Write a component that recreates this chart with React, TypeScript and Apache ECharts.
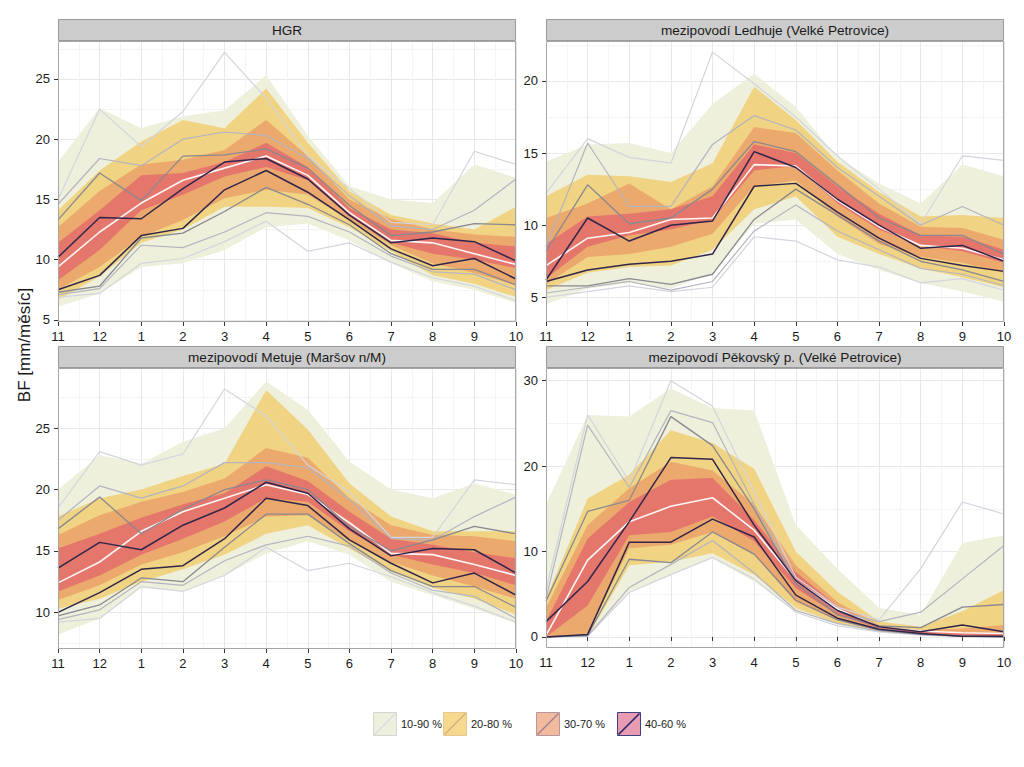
import React, { useEffect, useRef } from "react";
import * as echarts from "echarts";

// ---------- categories / labels ----------
const months = ["11", "12", "1", "2", "3", "4", "5", "6", "7", "8", "9", "10"];
const titles = [
  "HGR",
  "mezipovodí Ledhuje (Velké Petrovice)",
  "mezipovodí Metuje (Maršov n/M)",
  "mezipovodí Pěkovský p. (Velké Petrovice)",
];
const legendLabels = ["10-90 %", "20-80 %", "30-70 %", "40-60 %"];
const yTitle = "BF [mm/měsíc]";
const yTicksHgr = [5, 10, 15, 20, 25];
const yTicksLed = [5, 10, 15, 20];
const yTicksMet = [10, 15, 20, 25];
const yTicksPek = [0, 10, 20, 30];

// ---------- HGR ----------
const hgrB10 = [6.1, 7.2, 9.4, 9.7, 10.8, 12.7, 13.0, 11.6, 9.7, 8.2, 7.5, 6.4];
const hgrB90 = [18.1, 22.6, 20.9, 21.9, 22.4, 25.3, 20.3, 16.1, 15.0, 14.7, 17.9, 16.8];
const hgrB20 = [6.7, 8.6, 11.4, 12.5, 14.4, 14.4, 14.3, 12.7, 10.7, 8.7, 8.0, 6.9];
const hgrB80 = [14.1, 17.4, 19.8, 21.6, 20.9, 24.2, 19.7, 15.7, 13.7, 13.0, 12.5, 14.4];
const hgrB30 = [7.5, 9.4, 11.9, 13.3, 15.1, 15.8, 15.4, 13.3, 11.2, 9.7, 8.9, 7.9];
const hgrB70 = [12.7, 15.7, 17.9, 18.3, 19.1, 21.6, 18.6, 15.0, 13.4, 12.5, 12.1, 11.9];
const hgrB40 = [8.3, 10.8, 14.1, 15.4, 16.9, 17.7, 16.6, 13.6, 11.4, 10.5, 10.0, 9.3];
const hgrB60 = [11.4, 14.1, 17.0, 17.2, 18.1, 19.7, 17.7, 14.3, 12.5, 12.2, 11.4, 11.1];
const hgrMed = [9.4, 12.3, 14.7, 16.6, 17.6, 18.6, 17.0, 13.9, 11.6, 11.4, 10.5, 9.6];
const hgrL10 = [6.9, 7.2, 9.7, 10.1, 11.5, 13.2, 10.7, 11.4, 9.8, 8.5, 7.8, 6.6];
const hgrL90 = [15.0, 22.5, 19.4, 22.3, 27.2, 23.4, 18.6, 15.9, 13.1, 12.9, 19.0, 17.9];
const hgrL20 = [7.1, 7.6, 11.2, 11.0, 12.3, 13.9, 13.6, 12.3, 10.3, 9.0, 8.8, 7.5];
const hgrL80 = [14.6, 18.4, 17.8, 20.0, 20.6, 20.3, 18.4, 15.3, 12.8, 12.5, 14.1, 16.7];
const hgrL30 = [7.3, 7.8, 11.8, 12.2, 14.0, 16.0, 14.6, 12.9, 10.5, 9.2, 9.2, 7.9];
const hgrL70 = [13.3, 17.2, 14.9, 18.6, 18.7, 19.2, 17.6, 14.5, 12.0, 12.3, 13.0, 12.9];
const hgrL40 = [7.5, 8.7, 12.0, 12.6, 15.8, 17.4, 15.6, 13.3, 10.9, 9.5, 10.1, 8.4];
const hgrL60 = [10.2, 13.5, 13.4, 15.9, 18.1, 18.4, 16.7, 13.7, 11.4, 11.8, 11.5, 9.9];

// ---------- Ledhuje ----------
const ledB10 = [4.5, 5.6, 6.0, 5.6, 6.7, 10.1, 10.4, 8.0, 6.9, 6.0, 5.4, 4.7];
const ledB90 = [14.4, 15.6, 15.7, 15.0, 18.4, 20.5, 18.2, 14.7, 12.9, 11.5, 14.2, 13.4];
const ledB20 = [5.5, 6.7, 7.1, 7.2, 8.3, 11.1, 12.0, 9.2, 8.0, 7.0, 6.4, 5.7];
const ledB80 = [12.0, 13.5, 13.4, 13.0, 14.3, 19.6, 17.3, 14.4, 12.3, 10.6, 10.7, 10.5];
const ledB30 = [5.9, 7.8, 8.0, 8.5, 9.4, 12.7, 13.1, 10.6, 8.7, 7.8, 7.4, 6.7];
const ledB70 = [10.5, 11.5, 12.9, 11.1, 12.7, 16.8, 16.4, 13.8, 11.5, 9.9, 9.8, 9.0];
const ledB40 = [6.3, 8.5, 9.3, 9.7, 10.4, 13.8, 14.1, 11.5, 9.7, 8.6, 8.2, 7.4];
const ledB60 = [8.7, 10.6, 10.8, 11.1, 12.0, 15.6, 15.0, 12.7, 10.8, 9.3, 9.2, 8.3];
const ledMed = [7.2, 9.1, 9.5, 10.4, 10.5, 14.2, 14.1, 11.7, 9.9, 8.6, 8.4, 7.6];
const ledL10 = [5.0, 5.4, 5.8, 5.4, 5.7, 9.2, 8.9, 7.6, 7.1, 6.0, 6.3, 5.5];
const ledL90 = [12.2, 16.0, 14.7, 14.3, 22.0, 19.8, 17.5, 14.8, 12.5, 10.1, 14.8, 14.5];
const ledL20 = [5.3, 5.7, 6.1, 5.5, 6.1, 9.6, 11.4, 9.6, 8.3, 7.0, 6.6, 5.8];
const ledL80 = [8.5, 15.7, 11.3, 11.3, 15.6, 17.6, 16.6, 14.0, 12.0, 10.0, 11.3, 10.0];
const ledL30 = [5.8, 5.8, 6.3, 5.9, 6.6, 10.4, 12.5, 10.7, 8.9, 7.5, 6.9, 6.1];
const ledL70 = [8.2, 12.8, 10.1, 10.5, 12.5, 15.8, 15.1, 12.8, 10.5, 9.3, 9.3, 8.0];
const ledL40 = [6.1, 6.9, 7.3, 7.5, 8.0, 12.7, 12.9, 10.9, 9.1, 7.7, 7.2, 6.8];
const ledL60 = [6.2, 10.5, 8.9, 10.0, 10.3, 15.1, 14.0, 11.8, 10.0, 8.4, 8.6, 7.5];

// ---------- Metuje ----------
const metB10 = [8.2, 9.5, 12.0, 11.7, 13.0, 14.8, 15.8, 14.7, 12.5, 11.4, 10.3, 9.1];
const metB90 = [20.0, 22.8, 22.1, 23.9, 25.0, 28.8, 26.5, 22.3, 20.0, 19.3, 20.5, 19.6];
const metB20 = [10.3, 11.1, 12.5, 13.5, 14.7, 16.4, 17.1, 15.2, 13.3, 12.0, 11.1, 9.8];
const metB80 = [17.8, 19.3, 20.0, 21.1, 22.1, 28.1, 24.9, 20.5, 17.8, 16.6, 16.6, 16.6];
const metB30 = [11.0, 12.2, 13.9, 14.9, 16.2, 17.8, 17.9, 15.8, 14.1, 13.0, 12.1, 11.1];
const metB70 = [16.3, 17.9, 19.0, 19.8, 20.9, 23.4, 22.6, 19.3, 17.1, 16.3, 16.2, 15.8];
const metB40 = [11.7, 13.0, 14.7, 16.0, 17.4, 19.3, 19.0, 16.6, 14.7, 13.9, 13.2, 12.2];
const metB60 = [15.2, 16.4, 17.7, 18.8, 19.7, 21.9, 20.7, 18.2, 16.0, 15.5, 14.9, 14.4];
const metMed = [12.4, 14.1, 16.6, 18.2, 19.3, 20.4, 19.6, 17.3, 14.8, 14.7, 13.9, 13.0];
const metL10 = [9.2, 9.5, 12.1, 11.7, 13.0, 15.3, 13.4, 14.0, 12.9, 11.6, 10.5, 9.2];
const metL90 = [18.5, 23.1, 22.0, 22.9, 28.2, 26.0, 22.0, 19.8, 16.1, 16.1, 20.8, 20.4];
const metL20 = [9.4, 10.2, 12.5, 12.2, 14.2, 15.5, 16.2, 15.4, 13.2, 11.8, 11.3, 9.5];
const metL80 = [17.5, 20.3, 19.3, 20.3, 22.2, 22.2, 21.8, 19.2, 16.0, 15.9, 17.8, 19.4];
const metL30 = [9.7, 10.6, 12.8, 12.5, 15.3, 18.0, 18.0, 15.6, 13.4, 12.1, 12.1, 10.4];
const metL70 = [16.8, 19.4, 16.4, 18.4, 20.0, 20.8, 20.0, 17.0, 15.0, 15.9, 17.0, 16.4];
const metL40 = [10.0, 11.6, 13.5, 13.8, 16.0, 19.3, 18.7, 15.9, 14.0, 12.4, 13.2, 11.4];
const metL60 = [13.6, 15.7, 15.1, 17.1, 18.5, 20.6, 19.7, 16.8, 14.6, 15.2, 15.1, 13.2];

// ---------- Pěkovský p. ----------
const pekB10 = [0.0, 0.0, 5.3, 7.3, 9.2, 6.5, 3.0, 1.4, 0.6, 0.2, 0.05, 0.05];
const pekB90 = [15.5, 26.0, 25.8, 29.1, 26.8, 26.5, 13.1, 8.0, 3.4, 2.6, 11.0, 11.9];
const pekB20 = [0.0, 0.0, 8.4, 8.8, 9.8, 7.3, 3.4, 1.6, 0.6, 0.2, 0.0, 0.0];
const pekB80 = [4.5, 16.2, 19.0, 24.2, 22.7, 19.7, 10.0, 5.3, 1.8, 1.2, 3.0, 5.5];
const pekB30 = [0.0, 0.4, 10.4, 10.8, 12.3, 9.6, 4.1, 2.0, 0.8, 0.3, 0.0, 0.0];
const pekB70 = [3.4, 13.1, 17.4, 20.5, 19.5, 15.5, 8.4, 4.1, 1.4, 0.8, 1.0, 1.4];
const pekB40 = [0.0, 3.7, 11.9, 12.3, 14.1, 11.2, 5.7, 2.6, 1.0, 0.4, 0.2, 0.1];
const pekB60 = [1.8, 11.5, 15.8, 18.4, 18.6, 13.7, 7.6, 3.6, 1.2, 0.7, 0.5, 0.5];
const pekMed = [0.2, 9.0, 13.5, 15.3, 16.3, 12.5, 6.6, 3.3, 1.2, 0.7, 0.5, 0.4];
const pekL10 = [0.0, 0.1, 5.2, 7.3, 9.3, 6.8, 2.9, 1.3, 0.6, 0.2, 0.05, 0.0];
const pekL90 = [5.5, 26.0, 18.2, 30.0, 27.0, 17.0, 7.0, 3.5, 2.0, 8.0, 15.8, 14.4];
const pekL20 = [0.0, 0.1, 5.8, 8.5, 11.3, 7.5, 3.1, 1.6, 0.7, 0.3, 0.1, 0.0];
const pekL80 = [4.5, 24.8, 17.5, 26.5, 25.1, 15.5, 6.6, 3.0, 1.8, 2.9, 6.8, 10.7];
const pekL30 = [0.0, 0.2, 9.1, 8.7, 12.3, 9.7, 4.3, 2.0, 0.8, 0.3, 0.1, 0.0];
const pekL70 = [4.2, 14.7, 16.0, 25.8, 22.4, 15.0, 6.2, 2.6, 1.3, 1.1, 3.5, 3.8];
const pekL40 = [0.0, 0.3, 11.1, 11.1, 13.8, 11.7, 4.9, 2.2, 0.9, 0.4, 0.1, 0.1];
const pekL60 = [1.8, 6.5, 13.5, 21.0, 20.8, 13.1, 6.6, 3.1, 1.2, 0.6, 1.4, 0.6];

// ---------- styling ----------
const FONT = "'Liberation Sans', Arial, sans-serif";
const bandColors = ["#eef0dc", "#f0d383", "#eca96d", "#e4766c"];
const lineColors = ["#d3d5de", "#b4b4c0", "#8a8890", "#30264a"];
const lineWidths = [1.2, 1.2, 1.3, 1.5];
const medianColor = "#fff6f6";
const legendFill = ["#eef0df", "#f6d98f", "#f2ba9c", "#e89cb3"];
const legendDiag = ["#d8dade", "#d8ae80", "#9c7c9c", "#23236a"];
const legendBorder = ["#d4d6d2", "#e6c890", "#b8949c", "#40407e"];

const panels = [
  {
    title: titles[0], ticks: yTicksHgr, min: 4.83, max: 28.15, split: 5,
    bands: [[hgrB10, hgrB90], [hgrB20, hgrB80], [hgrB30, hgrB70], [hgrB40, hgrB60]],
    med: hgrMed,
    lines: [[hgrL10, hgrL90], [hgrL20, hgrL80], [hgrL30, hgrL70], [hgrL40, hgrL60]],
    box: { left: 58, top: 41, width: 458, height: 281 },
  },
  {
    title: titles[1], ticks: yTicksLed, min: 3.29, max: 22.77, split: 4,
    bands: [[ledB10, ledB90], [ledB20, ledB80], [ledB30, ledB70], [ledB40, ledB60]],
    med: ledMed,
    lines: [[ledL10, ledL90], [ledL20, ledL80], [ledL30, ledL70], [ledL40, ledL60]],
    box: { left: 546, top: 41, width: 458, height: 281 },
  },
  {
    title: titles[2], ticks: yTicksMet, min: 7.01, max: 29.91, split: 5,
    bands: [[metB10, metB90], [metB20, metB80], [metB30, metB70], [metB40, metB60]],
    med: metMed,
    lines: [[metL10, metL90], [metL20, metL80], [metL30, metL70], [metL40, metL60]],
    box: { left: 58, top: 368, width: 458, height: 281 },
  },
  {
    title: titles[3], ticks: yTicksPek, min: -1.29, max: 31.49, split: 4,
    bands: [[pekB10, pekB90], [pekB20, pekB80], [pekB30, pekB70], [pekB40, pekB60]],
    med: pekMed,
    lines: [[pekL10, pekL90], [pekL20, pekL80], [pekL30, pekL70], [pekL40, pekL60]],
    box: { left: 546, top: 368, width: 458, height: 280 },
  },
];

function buildOption() {
  const grid: any[] = [];
  const xAxis: any[] = [];
  const yAxis: any[] = [];
  const series: any[] = [];
  const graphic: any[] = [];

  panels.forEach((p, i) => {
    grid.push({ ...p.box, show: false });
    xAxis.push({
      type: "category", gridIndex: i, data: months, boundaryGap: false,
      axisLine: { show: false },
      axisTick: { show: true, length: 4, interval: 0, lineStyle: { color: "#333" } },
      axisLabel: { interval: 0, margin: 8, fontSize: 13, color: "#1a1a1a", fontFamily: FONT },
      splitLine: { show: false },
    });
    xAxis.push({
      type: "value", gridIndex: i, min: 0, max: 11, interval: 1, position: "top",
      axisLine: { show: false }, axisTick: { show: false }, axisLabel: { show: false },
      splitLine: { show: true, lineStyle: { color: "#e8e8e8", width: 1 } },
      minorTick: { show: false, splitNumber: 2 },
      minorSplitLine: { show: true, lineStyle: { color: "#f4f4f4", width: 1 } },
    });
    const ticks = p.ticks;
    yAxis.push({
      type: "value", gridIndex: i, min: p.min, max: p.max, splitNumber: p.split,
      axisLine: { show: false },
      axisTick: { show: true, length: 4, lineStyle: { color: "#333" }, customValues: ticks },
      axisLabel: {
        margin: 8, fontSize: 13, color: "#1a1a1a", fontFamily: FONT, customValues: ticks,
        formatter: (v: number) => (ticks.some((t) => Math.abs(t - v) < 1e-6) ? String(v) : ""),
      },
      splitLine: { show: true, lineStyle: { color: "#e8e8e8", width: 1 } },
      minorTick: { show: false, splitNumber: 2 },
      minorSplitLine: { show: true, lineStyle: { color: "#f4f4f4", width: 1 } },
    });

    const xi = i * 2;
    p.bands.forEach(([lo, hi], k) => {
      const stack = `s${i}_${k}`;
      series.push({
        type: "line", xAxisIndex: xi, yAxisIndex: i, stack, data: lo, symbol: "none",
        silent: true, lineStyle: { opacity: 0, width: 0 }, z: 2,
      });
      series.push({
        type: "line", xAxisIndex: xi, yAxisIndex: i, stack, symbol: "none", silent: true,
        data: hi.map((v, j) => +(v - lo[j]).toFixed(3)),
        lineStyle: { opacity: 0, width: 0 },
        areaStyle: { color: bandColors[k], opacity: 1 }, z: 2,
      });
    });
    series.push({
      type: "line", xAxisIndex: xi, yAxisIndex: i, data: p.med, symbol: "none", silent: true,
      lineStyle: { color: medianColor, width: 1.6 }, z: 3,
    });
    p.lines.forEach(([lo, hi], k) => {
      [lo, hi].forEach((d) => {
        series.push({
          type: "line", xAxisIndex: xi, yAxisIndex: i, data: d, symbol: "none", silent: true,
          lineStyle: { color: lineColors[k], width: lineWidths[k] }, z: 4,
        });
      });
    });

    const b = p.box;
    graphic.push({
      type: "rect", z: 100, silent: true,
      shape: { x: b.left + 0.5, y: b.top + 0.5, width: b.width - 1, height: b.height - 1 },
      style: { fill: "none", stroke: "#a6a6a6", lineWidth: 1 },
    });
    graphic.push({
      type: "rect", z: 100, silent: true,
      shape: { x: b.left + 0.5, y: b.top - 21.5, width: b.width - 1, height: 21 },
      style: { fill: "#cccccc", stroke: "#9a9a9a", lineWidth: 1 },
    });
    graphic.push({
      type: "text", z: 101, silent: true,
      x: b.left + b.width / 2, y: b.top - 11,
      style: {
        text: p.title, fill: "#1a1a1a", font: `13.6px ${FONT}`,
        textAlign: "center", textVerticalAlign: "middle",
      },
    });
  });

  graphic.push({
    type: "text", z: 101, silent: true, x: 24, y: 345, rotation: Math.PI / 2,
    style: {
      text: yTitle, fill: "#1a1a1a", font: `17px ${FONT}`,
      textAlign: "center", textVerticalAlign: "middle",
    },
  });

  const boxX = [373, 443, 536, 617];
  legendLabels.forEach((lab, k) => {
    const x = boxX[k];
    const y = 712;
    graphic.push({
      type: "rect", z: 100, silent: true,
      shape: { x: x + 0.5, y: y + 0.5, width: 23, height: 23 },
      style: { fill: legendFill[k], stroke: legendBorder[k], lineWidth: 1 },
    });
    graphic.push({
      type: "line", z: 101, silent: true,
      shape: { x1: x + 1.5, y1: y + 22.5, x2: x + 22.5, y2: y + 1.5 },
      style: { stroke: legendDiag[k], lineWidth: k === 3 ? 1.6 : 1.2 },
    });
    graphic.push({
      type: "text", z: 101, silent: true, x: x + 28, y: y + 12,
      style: {
        text: lab, fill: "#1a1a1a", font: `11px ${FONT}`,
        textAlign: "left", textVerticalAlign: "middle",
      },
    });
  });

  return {
    animation: false,
    backgroundColor: "#ffffff",
    grid, xAxis, yAxis, series, graphic,
  };
}

export default function App() {
  const ref = useRef<HTMLDivElement>(null);
  useEffect(() => {
    if (!ref.current) return;
    const chart = echarts.init(ref.current, undefined, { renderer: "svg" });
    chart.setOption(buildOption() as any);
    return () => chart.dispose();
  }, []);
  return (
    <div
      ref={ref}
      style={{ position: "absolute", left: 0, top: 0, width: 1024, height: 767, background: "#fff" }}
    />
  );
}
